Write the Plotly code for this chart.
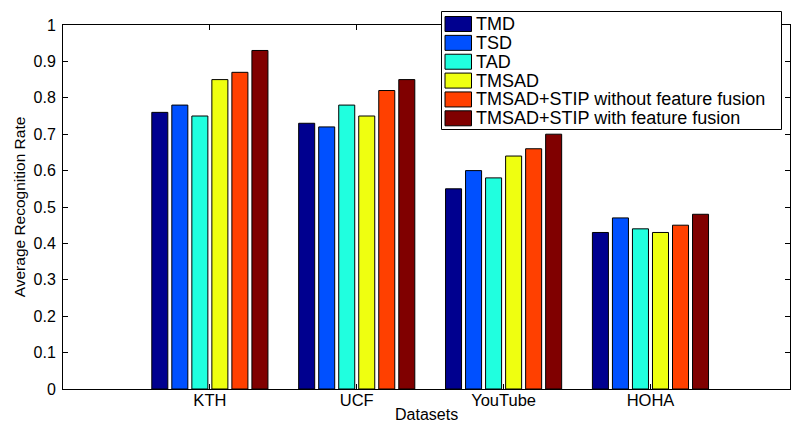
import plotly.graph_objects as go

# ---- data ----
datasets = ["KTH", "UCF", "YouTube", "HOHA"]
series_names = ["TMD", "TSD", "TAD", "TMSAD",
                "TMSAD+STIP without feature fusion",
                "TMSAD+STIP with feature fusion"]
tmd = [0.76, 0.73, 0.55, 0.43]
tsd = [0.78, 0.72, 0.60, 0.47]
tad = [0.75, 0.78, 0.58, 0.44]
tmsad = [0.85, 0.75, 0.64, 0.43]
stip_nofusion = [0.87, 0.82, 0.66, 0.45]
stip_fusion = [0.93, 0.85, 0.70, 0.48]
series_values = [tmd, tsd, tad, tmsad, stip_nofusion, stip_fusion]
colors = ["#00008F", "#0050FF", "#20FFDF", "#EFFF10", "#FF4000", "#800000"]
y_ticks = [0, 0.1, 0.2, 0.3, 0.4, 0.5, 0.6, 0.7, 0.8, 0.9, 1]
y_ticktext = ["0", "0.1", "0.2", "0.3", "0.4", "0.5", "0.6", "0.7", "0.8", "0.9", "1"]

FONT = "Arial, 'Liberation Sans', Helvetica, sans-serif"
W, H = 791, 421
ML, MR, MT, MB = 63, 1, 25, 32
PW, PH = W - ML - MR, H - MT - MB

x_pos = list(range(1, len(datasets) + 1))

fig = go.Figure()
for name, vals, col in zip(series_names, series_values, colors):
    fig.add_trace(go.Bar(
        x=x_pos, y=vals, name=name,
        marker=dict(color=col, line=dict(color="black", width=1)),
        showlegend=False,
    ))

# manual MATLAB-style legend box (pixel layout converted to paper coords)
def px(xp):
    return (xp - ML) / PW

def py(yp):
    return (H - MB - yp) / PH

box_l, box_t, box_r, box_b = 441.5, 11.5, 781.5, 129.5
fig.add_shape(type="rect", xref="paper", yref="paper",
              x0=px(box_l), x1=px(box_r), y0=py(box_b), y1=py(box_t),
              fillcolor="white", line=dict(color="black", width=1), layer="above")
pitch = 18.86
for i, (name, col) in enumerate(zip(series_names, colors)):
    top = 16.5 + i * pitch
    fig.add_shape(type="rect", xref="paper", yref="paper",
                  x0=px(445), x1=px(471.5), y0=py(top + 15), y1=py(top),
                  fillcolor=col, line=dict(color="black", width=1), layer="above")
    fig.add_annotation(xref="paper", yref="paper", x=px(474), y=py(top + 7.5),
                       text=name, showarrow=False, xanchor="left", yanchor="middle",
                       font=dict(family=FONT, size=18, color="black"))

# x-axis title placed as in the reference (partly below the bottom edge)
fig.add_annotation(xref="paper", yref="paper", x=0.5, y=py(404),
                   text="Datasets", showarrow=False, xanchor="center", yanchor="top",
                   font=dict(family=FONT, size=16, color="black"))

fig.update_layout(
    width=W, height=H,
    margin=dict(l=ML, r=MR, t=MT, b=MB, autoexpand=False),
    paper_bgcolor="white", plot_bgcolor="white",
    barmode="group", bargap=0.182, bargroupgap=0.2,
    font=dict(family=FONT, color="black"),
    showlegend=False,
)
fig.update_xaxes(
    range=[0, 4.95], tickvals=x_pos, ticktext=datasets,
    ticks="inside", ticklen=5, tickcolor="black", tickwidth=1,
    showline=True, linecolor="black", linewidth=1, mirror="ticks",
    showgrid=False, zeroline=False,
    tickfont=dict(family=FONT, size=16.5),
    ticklabelstandoff=-4,
)
fig.update_yaxes(
    range=[0, 1], tickvals=y_ticks, ticktext=y_ticktext,
    ticks="inside", ticklen=5, tickcolor="black", tickwidth=1,
    showline=True, linecolor="black", linewidth=1, mirror="ticks",
    showgrid=False, zeroline=False,
    tickfont=dict(family=FONT, size=16),
    ticklabelstandoff=3,
    title=dict(text="Average Recognition Rate", font=dict(family=FONT, size=15.5), standoff=4),
)

fig.write_html("out.html", config={"displayModeBar": False},
               post_script="document.body.style.margin='0px';")
